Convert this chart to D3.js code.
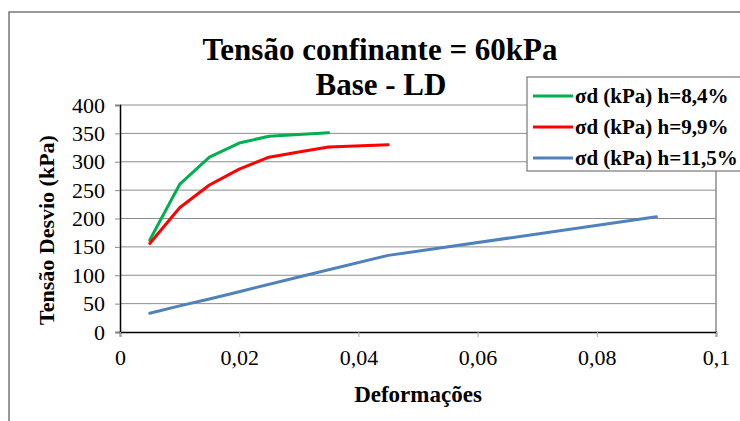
<!DOCTYPE html>
<html>
<head>
<meta charset="utf-8">
<script src="https://cdn.jsdelivr.net/npm/d3@7"></script>
<style>
  body { margin: 0; background: #fff; }
  svg text { font-family: "Liberation Serif", "Times New Roman", Times, serif; }
</style>
</head>
<body>
<div id="chart"></div>
<script>
// Data
var seriesNames = ["σd (kPa) h=8,4%", "σd (kPa) h=9,9%", "σd (kPa) h=11,5%"];
var seriesColors = ["#00B050", "#FF0000", "#4F81BD"];

var greenX = [0.005, 0.01, 0.015, 0.02, 0.025, 0.03, 0.035];
var greenY = [162, 260, 308, 333, 345, 348, 351];

var redX = [0.005, 0.01, 0.015, 0.02, 0.025, 0.03, 0.035, 0.045];
var redY = [156, 219, 259, 287, 308, 317, 326, 330];

var blueX = [0.005, 0.01, 0.015, 0.02, 0.03, 0.045, 0.09];
var blueY = [33, 46, 58, 71, 97, 135, 203];

var xTicks = [0, 0.02, 0.04, 0.06, 0.08, 0.1];
var yTicks = [0, 50, 100, 150, 200, 250, 300, 350, 400];

var svgWidth = 740;
var svgHeight = 421;
var serif = "'Liberation Serif', 'Times New Roman', Times, serif";

var margins = { top: 105, right: 24, bottom: 89, left: 120 };
var width = svgWidth - margins.left - margins.right;
var height = svgHeight - margins.top - margins.bottom;

var svg = d3.select("#chart")
            .append("svg")
            .attr("width", svgWidth)
            .attr("height", svgHeight)
            .attr("font-family", serif);

// Outer chart border (runs off the right and bottom edges)
svg.append("rect")
   .attr("x", 9)
   .attr("y", 12)
   .attr("width", 760)
   .attr("height", 440)
   .attr("fill", "none")
   .attr("stroke", "#777")
   .attr("stroke-width", 1.5);

var chartGroup = svg.append("g")
                    .attr("transform", `translate(${margins.left}, ${margins.top})`);

var xScale = d3.scaleLinear().domain([0, 0.1]).range([0, width]);
var yScale = d3.scaleLinear().domain([0, 400]).range([height, 0]);

var comma = d => String(d).replace(".", ",");

// Gridlines
chartGroup.selectAll("line.grid")
          .data(yTicks.slice(1))
          .enter()
          .append("line")
          .attr("class", "grid")
          .attr("x1", 0)
          .attr("x2", width)
          .attr("y1", d => yScale(d))
          .attr("y2", d => yScale(d))
          .attr("stroke", "#8c8c8c")
          .attr("stroke-width", 1);

// Right border of the plot area
chartGroup.append("line")
          .attr("x1", width).attr("x2", width)
          .attr("y1", 0).attr("y2", height)
          .attr("stroke", "#8c8c8c")
          .attr("stroke-width", 1.5);

// Axes
var leftAxis = d3.axisLeft(yScale).tickValues(yTicks).tickSize(5).tickPadding(10);
var bottomAxis = d3.axisBottom(xScale).tickValues(xTicks).tickSize(5).tickPadding(12).tickFormat(comma);

var yAxisG = chartGroup.append("g").call(leftAxis);
var xAxisG = chartGroup.append("g").attr("transform", `translate(0,${height})`).call(bottomAxis);

[yAxisG, xAxisG].forEach(function(g) {
    g.attr("font-family", serif).attr("font-size", 22);
    g.select(".domain").attr("stroke", "#000").attr("stroke-width", 1.5);
    g.selectAll(".tick line").attr("stroke", "#888");
    g.selectAll(".tick text").attr("fill", "#000");
});
xAxisG.selectAll(".tick line").attr("stroke", "#aaa");

// Lines
var seriesData = [
    greenX.map((x, i) => [x, greenY[i]]),
    redX.map((x, i) => [x, redY[i]]),
    blueX.map((x, i) => [x, blueY[i]])
];

var lineGen = d3.line()
    .x(d => xScale(d[0]))
    .y(d => yScale(d[1]));

chartGroup.selectAll("path.series")
          .data(seriesData)
          .enter()
          .append("path")
          .attr("class", "series")
          .attr("d", lineGen)
          .attr("fill", "none")
          .attr("stroke", (d, i) => seriesColors[i])
          .attr("stroke-width", 3)
          .attr("stroke-linejoin", "round")
          .attr("stroke-linecap", "round");

// Title
svg.append("text")
   .attr("x", 380)
   .attr("y", 60)
   .attr("text-anchor", "middle")
   .attr("font-size", 31)
   .attr("font-weight", "bold")
   .text("Tensão confinante = 60kPa");

svg.append("text")
   .attr("x", 381)
   .attr("y", 95)
   .attr("text-anchor", "middle")
   .attr("font-size", 31)
   .attr("font-weight", "bold")
   .text("Base - LD");

// Axis labels
svg.append("text")
   .attr("transform", "translate(54, 230) rotate(-90)")
   .attr("text-anchor", "middle")
   .attr("font-size", 22)
   .attr("font-weight", "bold")
   .text("Tensão Desvio (kPa)");

svg.append("text")
   .attr("x", 418)
   .attr("y", 402)
   .attr("text-anchor", "middle")
   .attr("font-size", 23)
   .attr("font-weight", "bold")
   .text("Deformações");

// Legend
var legend = svg.append("g").attr("transform", "translate(527, 77)");

legend.append("rect")
      .attr("x", 0).attr("y", 0)
      .attr("width", 230).attr("height", 94)
      .attr("fill", "#fff")
      .attr("stroke", "#777")
      .attr("stroke-width", 1.2);

var legendRows = legend.selectAll("g.row")
    .data(seriesNames)
    .enter()
    .append("g")
    .attr("class", "row")
    .attr("transform", (d, i) => `translate(0, ${19 + i * 31})`);

legendRows.append("line")
          .attr("x1", 6).attr("x2", 46)
          .attr("y1", 0).attr("y2", 0)
          .attr("stroke", (d, i) => seriesColors[i])
          .attr("stroke-width", 3);

legendRows.append("text")
          .attr("x", 48)
          .attr("y", 7)
          .attr("font-size", 21)
          .attr("font-weight", "bold")
          .text(d => d);
</script>
</body>
</html>
